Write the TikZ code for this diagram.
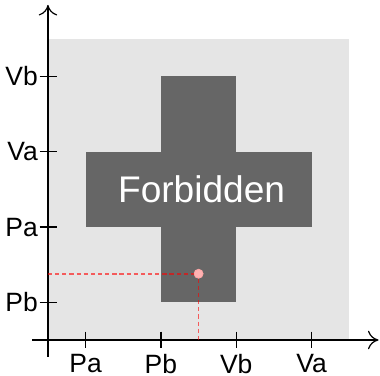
\documentclass[tikz,border=0pt]{standalone}
\usepackage{fontspec}
\setmainfont{Liberation Sans}
\usetikzlibrary{arrows.meta}
\begin{document}
\begin{tikzpicture}[
  axis/.style={line width=0.45pt, black, -{To[length=4pt,width=7pt]}},
  tickline/.style={line width=0.45pt, black},
  lab/.style={font=\fontsize{10}{12}\selectfont, inner sep=1pt},
  guide/.style={red, opacity=0.6, line width=0.6pt, dash pattern=on 1.6pt off 1.1pt},
  pointmark/.style={circle, fill=red!30, draw=red!35, line width=0.3pt, inner sep=0pt, minimum size=3.4pt}
]
\useasboundingbox (-0.637,-0.465) rectangle (4.409,4.515);
% background
\fill[black!10] (0,0) rectangle (4,4);
% forbidden cross
\fill[black!60] (1.5,0.5) rectangle (2.5,3.5);
\fill[black!60] (0.5,1.5) rectangle (3.5,2.5);
\node[text=white, font=\fontsize{14}{16}\selectfont] (forb) at (2.04,2) {Forbidden};
% axes
\coordinate (xs) at (-0.21,0);
\coordinate (xe) at (4.39,0);
\coordinate (ys) at (0,-0.22);
\coordinate (ye) at (0,4.45);
\draw[axis] (xs) -- (xe);
\draw[axis] (ys) -- (ye);
% x ticks
\foreach \x/\t/\n in {0.5/Pa/xa,1.5/Pb/xb,2.5/Vb/xc,3.5/Va/xd}{
  \coordinate (\n t) at (\x,0.11);
  \coordinate (\n b) at (\x,-0.11);
  \draw[tickline] (\n t) -- (\n b);
  \node[lab, anchor=north, inner sep=2pt] (\n) at (\n b) {\t};
}
% y ticks
\foreach \y/\t/\n in {0.5/Pb/ya,1.5/Pa/yb,2.5/Va/yc,3.5/Vb/yd}{
  \coordinate (\n l) at (-0.11,\y);
  \coordinate (\n r) at (0.12,\y);
  \draw[tickline] (\n l) -- (\n r);
  \node[lab, anchor=east, inner sep=0.5pt] (\n) at (\n l) {\t};
}
% point and guides
\node[pointmark] (p) at (2.0,0.88) {};
\coordinate (px) at (2.0,0);
\coordinate (py) at (0,0.88);
\draw[guide] (py) -- (p.west);
\draw[guide] (p.south) -- (px);
\end{tikzpicture}
\end{document}
